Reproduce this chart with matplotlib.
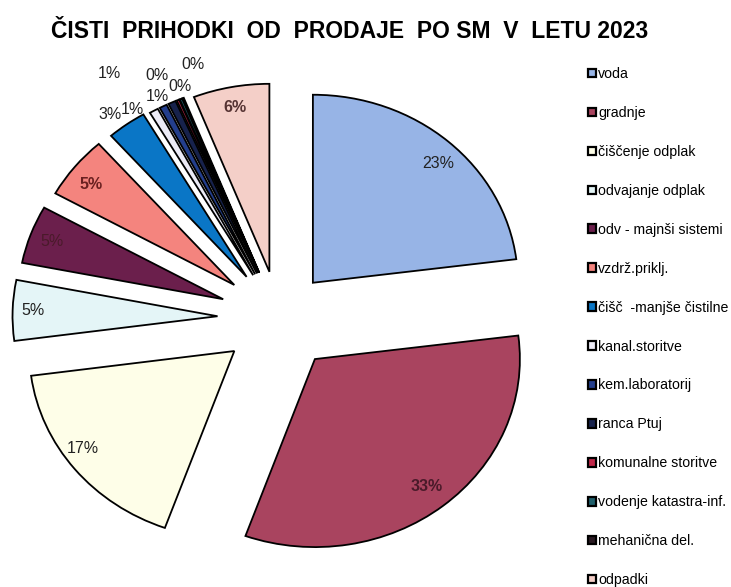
import matplotlib
matplotlib.use("Agg")
import matplotlib.pyplot as plt
import numpy as np

plt.rcParams['font.family'] = ['Liberation Sans', 'DejaVu Sans']

# shares of net sales per cost centre (percent)
categories = ["voda", "gradnje", "čiščenje odplak", "odvajanje odplak",
              "odv - majnši sistemi", "vzdrž.priklj.", "čišč  -manjše čistilne",
              "kanal.storitve", "kem.laboratorij", "ranca Ptuj",
              "komunalne storitve", "vodenje katastra-inf.", "mehanična del.",
              "odpadki"]
shares = [23.0, 32.5, 17.4, 5.2, 5.0, 5.4, 3.1, 0.7, 0.6, 0.6, 0.2, 0.2, 0.1, 6.0]

colors = ["#97b4e6", "#a9445f", "#fefee8", "#e4f5f7", "#6b1f4c", "#f4847e",
          "#0a76c6", "#ecebf6", "#233e8c", "#17224c", "#c0284a", "#1f5f6b",
          "#2a1a22", "#f4cfc8"]
explode = [0.25, 0.28, 0.28, 0.30, 0.29, 0.28, 0.27, 0.26, 0.26, 0.26,
           0.26, 0.26, 0.26, 0.25]
# label distance from pie centre and small angle shifts (deg)
label_r = [1.13, 1.15, 1.18, 1.20, 1.18, 1.16, 1.36, 1.32, 1.54, 1.32,
           1.42, 1.32, 1.41, 1.14]
label_da = [-2, 0, -3, 0, 0, 1, 1.5, 3.9, 5.8, 2.3, 1.7, -0.9, -4.5, 0]

W, H = 731, 587
fig = plt.figure(figsize=(W / 100, H / 100), dpi=100)

# pie centre and radii in pixels
cx, cy = 279, 318
rx, ry = 205, 188
ax = fig.add_axes([0, 0, 560 / W, (H - 45) / H])

wedges, texts, autotexts = ax.pie(
    shares, colors=colors, explode=explode, startangle=90, counterclock=False,
    autopct='%.0f%%', wedgeprops=dict(edgecolor='black', linewidth=1.3),
    textprops=dict(fontsize=11.5, color='#222222'))
ax.set_aspect('auto')
ax.set_xlim(-cx / rx, (560 - cx) / rx)
ax.set_ylim(-(H - cy) / ry, (cy - 45) / ry)

for w, t, r, da in zip(wedges, autotexts, label_r, label_da):
    mid = np.deg2rad((w.theta1 + w.theta2) / 2 + da)
    t.set_position((r * np.cos(mid), r * np.sin(mid)))
    t.set_ha('center')
    t.set_va('center')
    t.set_clip_on(False)

# labels printed dark on the dark slices
autotexts[1].set_color('#4a1a2a')
autotexts[1].set_fontweight('bold')
autotexts[4].set_color('#4a1a2a')
autotexts[5].set_color('#6a2020')
autotexts[5].set_fontweight('bold')
autotexts[13].set_fontweight('bold')
autotexts[13].set_color('#553333')

fig.text(350 / W, 1 - 31 / H, "ČISTI  PRIHODKI  OD  PRODAJE  PO SM  V  LETU 2023",
         ha='center', va='center', fontsize=16.5, fontweight='bold')

leg = fig.legend(wedges, categories, loc='upper left',
                 bbox_to_anchor=(588 / W, 1 - 67 / H), frameon=False,
                 fontsize=10.2, handlelength=0.55, handleheight=0.55,
                 handletextpad=0.15, labelspacing=1.76, borderpad=0,
                 borderaxespad=0)
for h in leg.legend_handles:
    h.set_linewidth(1.6)

fig.savefig("out.png", dpi=100)
